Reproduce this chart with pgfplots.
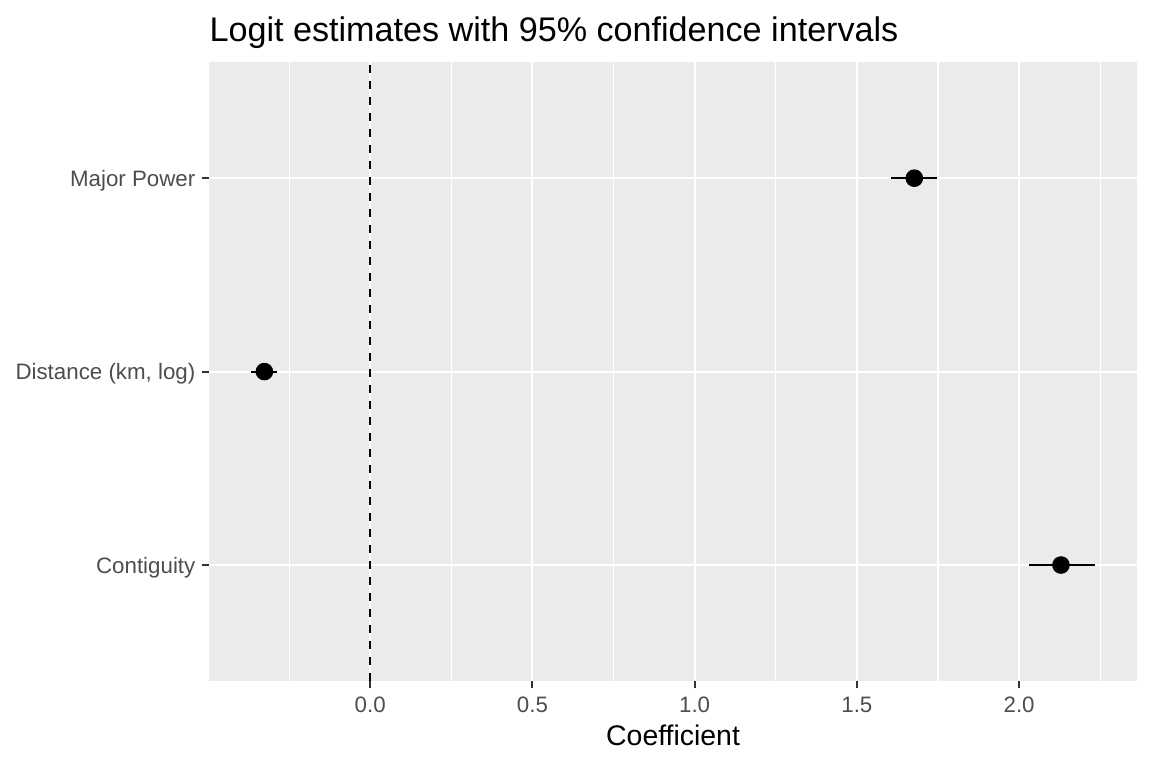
\documentclass[border=0pt]{standalone}
\usepackage{pgfplots}
\pgfplotsset{compat=1.18}
\usepackage{pgfplotstable}
\usepackage{fontspec}
\setmainfont{Liberation Sans}
\definecolor{panelgrey}{HTML}{EBEBEB}
\definecolor{grey30}{HTML}{4D4D4D}
\definecolor{grey20}{HTML}{333333}

\pgfplotstableread{
pos est lo hi
1 2.129 2.029 2.235
2 -0.326 -0.367 -0.287
3 1.677 1.605 1.746
}\coefs

\begin{document}
\begin{tikzpicture}
\useasboundingbox (0,0) rectangle (432bp,288bp);
\begin{axis}[
  at={(78.4bp,32.6bp)}, anchor=south west,
  scale only axis, width=347.9bp, height=232.1bp,
  xmin=-0.4965, xmax=2.3627,
  ymin=0.4, ymax=3.6,
  xtick={0,0.5,1,1.5,2},
  xticklabels={0.0,0.5,1.0,1.5,2.0},
  minor xtick={-0.25,0.25,0.75,1.25,1.75,2.25},
  ytick={1,2,3},
  yticklabels={Contiguity,{Distance (km, log)},Major Power},
  tick pos=left,
  tick align=outside,
  major tick length=2.75bp,
  minor tick length=0pt,
  every tick/.style={grey20, line width=0.8bp},
  minor tick style={draw=none},
  axis line style={draw=none},
  axis background/.style={fill=panelgrey},
  grid=both,
  major grid style={white, line width=0.8bp},
  minor grid style={white, line width=0.4bp},
  ticklabel style={font=\fontsize{8.4}{10}\selectfont, text=grey30, inner sep=0pt},
  xticklabel style={anchor=north, yshift=-3.1bp},
  yticklabel style={anchor=base east, xshift=-2.2bp, yshift=-3bp},
  /pgf/number format/assume math mode=true,
  clip=false,
]
\addplot[black, line width=0.8bp, dash pattern=on 3bp off 3bp] coordinates {(0,0.4) (0,3.6)};
\addplot[only marks, mark=*, mark size=3.1bp, black,
  error bars/.cd, x dir=both, x explicit, error mark=none,
  error bar style={black, line width=0.8bp, solid}]
  table[x=est, y=pos,
        x error plus expr=\thisrow{hi}-\thisrow{est},
        x error minus expr=\thisrow{est}-\thisrow{lo}] \coefs;
\end{axis}
\node[anchor=base west, inner sep=0pt, font=\fontsize{12.85}{15}\selectfont] at (78.4bp,272.4bp) {Logit estimates with 95\% confidence intervals};
\node[anchor=base, inner sep=0pt, font=\fontsize{10.7}{13}\selectfont] at (252.4bp,8.4bp) {Coefficient};
\end{tikzpicture}
\end{document}
